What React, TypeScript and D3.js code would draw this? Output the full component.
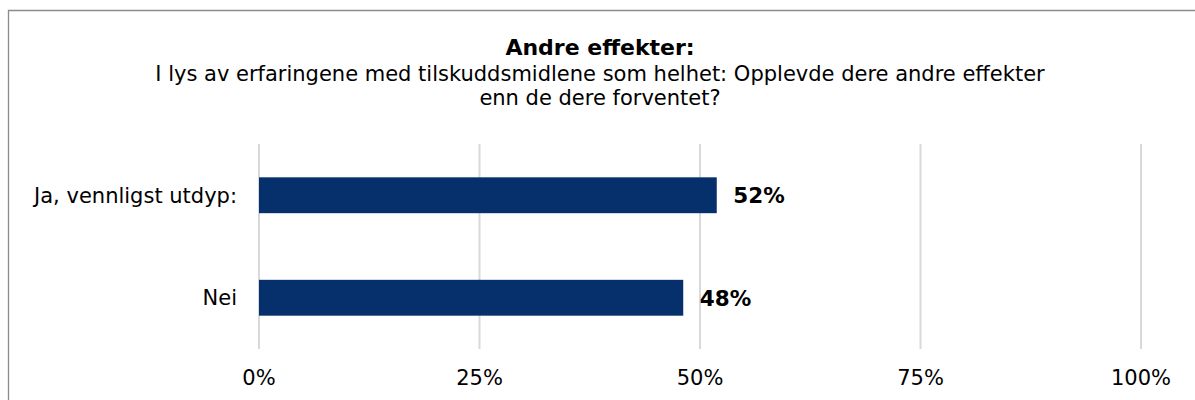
import React from "react";
import * as d3 from "d3";

const titleText = "Andre effekter:";
const subtitleLines = [
  "I lys av erfaringene med tilskuddsmidlene som helhet: Opplevde dere andre effekter",
  "enn de dere forventet?",
];
const categories = ["Ja, vennligst utdyp:", "Nei"];
const values = [0.519, 0.481];
const valueLabels = ["52%", "48%"];
const ticks = [0, 0.25, 0.5, 0.75, 1];
const tickLabels = ["0%", "25%", "50%", "75%", "100%"];

const W = 1195;
const H = 400;
const FONT = "Verdana, 'DejaVu Sans', sans-serif";

export default function App() {
  const x = d3.scaleLinear().domain([0, 1]).range([259, 1141]);
  const y = d3
    .scaleBand<string>()
    .domain(categories)
    .range([144, 349])
    .paddingInner(0.65)
    .paddingOuter(0.325);
  const cx = 600;

  return (
    <svg
      width={W}
      height={H}
      style={{ position: "absolute", left: 0, top: 0, background: "#fff" }}
      fontFamily={FONT}
    >
      <rect x={0} y={0} width={W} height={H} fill="#fff" />
      {/* outer border (extends past view on right/bottom) */}
      <path d={`M8.5,${H + 5} V10.5 H${W + 5}`} fill="none" stroke="#8c8c8c" strokeWidth={1.3} />

      <text x={cx} y={55} textAnchor="middle" fontWeight="bold" fontSize={22} fill="#000">
        {titleText}
      </text>
      {subtitleLines.map((s, i) => (
        <text key={i} x={cx} y={80.5 + i * 24.5} textAnchor="middle" fontSize={21} fill="#000">
          {s}
        </text>
      ))}

      {ticks.map((t, i) => (
        <g key={i}>
          <line x1={x(t)} x2={x(t)} y1={144} y2={349} stroke="#d9d9d9" strokeWidth={2} />
          <text x={x(t)} y={385} textAnchor="middle" fontSize={21} fill="#000">
            {tickLabels[i]}
          </text>
        </g>
      ))}

      {categories.map((c, i) => {
        const yy = y(c)!;
        const bw = y.bandwidth();
        return (
          <g key={c}>
            <rect x={x(0)} y={yy} width={x(values[i]) - x(0)} height={bw} fill="#06306b" />
            <text
              x={x(0) - 22}
              y={yy + bw / 2}
              dy="0.36em"
              textAnchor="end"
              fontSize={21}
              fill="#000"
            >
              {c}
            </text>
            <text
              x={x(values[i]) + 16.5}
              y={yy + bw / 2}
              dy="0.38em"
              fontWeight="bold"
              fontSize={21.5}
              fill="#000"
            >
              {valueLabels[i]}
            </text>
          </g>
        );
      })}
    </svg>
  );
}
